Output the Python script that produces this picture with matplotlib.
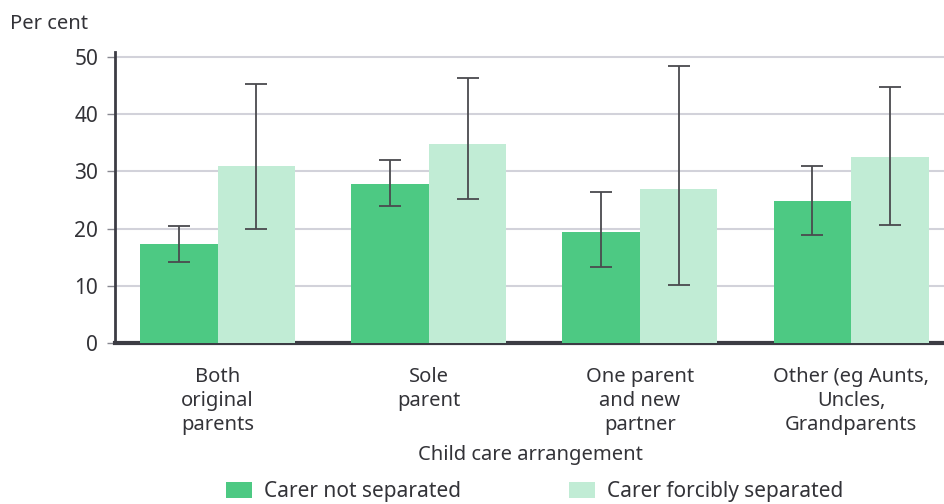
import matplotlib
matplotlib.use("Agg")
import matplotlib.pyplot as plt
import numpy as np

plt.rcParams['font.family'] = ['Noto Sans', 'DejaVu Sans']

categories = ["Both\noriginal\nparents", "Sole\nparent",
              "One parent\nand new\npartner", "Other (eg Aunts,\nUncles,\nGrandparents"]
series_names = ["Carer not separated", "Carer forcibly separated"]

not_sep = [17.3, 27.8, 19.4, 24.8]
not_sep_lo = [14.2, 24.0, 13.3, 18.8]
not_sep_hi = [20.5, 32.0, 26.4, 30.9]

forced = [30.9, 34.8, 26.9, 32.5]
forced_lo = [19.9, 25.2, 10.2, 20.6]
forced_hi = [45.3, 46.4, 48.4, 44.7]

GREEN = '#4dc983'
LIGHT = '#c1ecd5'
TEXT = '#333338'
SPINE = '#3c3c44'

fig = plt.figure(figsize=(9.45, 5.04), dpi=100)
ax = fig.add_axes([0.1217, 0.3194, 0.8783, 0.5778])

x = np.arange(len(categories))
w = 0.367


def yerr(vals, lo, hi):
    v = np.array(vals)
    return [v - np.array(lo), np.array(hi) - v]


err_kw = dict(ecolor='#4a4a4e', elinewidth=1.3, capsize=8, capthick=1.3)
ax.bar(x - w / 2, not_sep, w, color=GREEN, label=series_names[0],
       yerr=yerr(not_sep, not_sep_lo, not_sep_hi), error_kw=err_kw, zorder=3)
ax.bar(x + w / 2, forced, w, color=LIGHT, label=series_names[1],
       yerr=yerr(forced, forced_lo, forced_hi), error_kw=err_kw, zorder=3)

ax.set_xlim(-0.486, 3.445)
ax.set_ylim(0, 50.9)
ax.set_yticks([0, 10, 20, 30, 40, 50])
ax.yaxis.grid(True, color='#d2d2da', linewidth=1.5, zorder=0)
ax.set_axisbelow(True)

for side in ('top', 'right'):
    ax.spines[side].set_visible(False)
ax.spines['left'].set_color(SPINE)
ax.spines['left'].set_linewidth(2)
ax.spines['bottom'].set_color(SPINE)
ax.spines['bottom'].set_linewidth(3)

ax.tick_params(axis='y', length=6, width=1, color='#888890', pad=6,
               labelsize=15, labelcolor=TEXT)
ax.set_xticks(x)
ax.set_xticklabels(categories, fontsize=14.5, color=TEXT, linespacing=1.28)
ax.tick_params(axis='x', length=0, pad=17)

ax.set_xlabel("Child care arrangement", fontsize=14.5, color=TEXT, labelpad=7)
fig.text(0.011, 0.952, "Per cent", fontsize=14.5, color=TEXT, va='center')

fig.legend(loc='center', bbox_to_anchor=(0.5656, 0.024), ncol=2, frameon=False,
           fontsize=15, handlelength=1.25, handleheight=0.82,
           columnspacing=5.2, handletextpad=0.58, labelcolor=TEXT)

fig.savefig("out.png", dpi=100, facecolor='white')
